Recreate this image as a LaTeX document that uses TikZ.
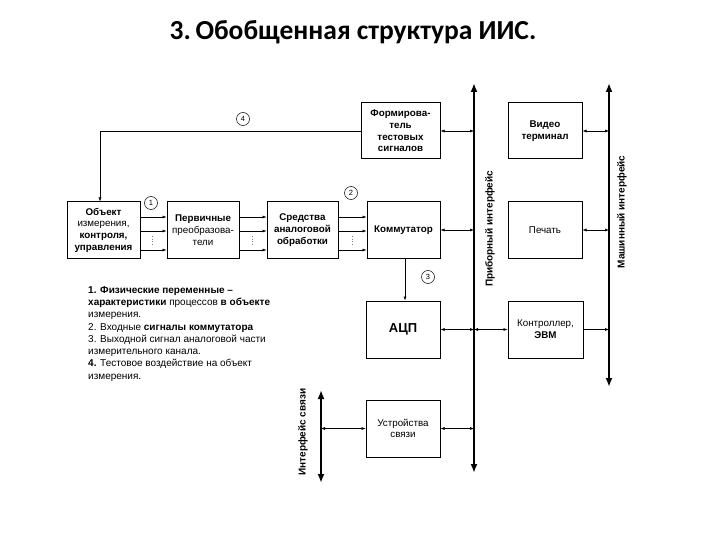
\documentclass[tikz,border=0pt]{standalone}
\usepackage{fontspec}
\setmainfont{Liberation Sans}
\newfontfamily\titlefont{Carlito}
\usetikzlibrary{arrows.meta}
\tikzset{
  blk/.style={draw, line width=1pt, minimum width=73pt, minimum height=56pt, align=center, font=\fontsize{9.8}{11.7}\selectfont, inner sep=0pt},
  sig/.style={line width=0.5pt, -{Latex[length=4pt,width=3pt]}},
  bi/.style={line width=0.5pt, {Latex[length=4pt,width=3pt]}-{Latex[length=4pt,width=3pt]}},
  bus/.style={line width=2.4pt, {Latex[length=9pt,width=7pt]}-{Latex[length=9pt,width=7pt]}},
  num/.style={draw, circle, line width=0.5pt, inner sep=0pt, minimum size=13pt, font=\fontsize{7.5}{7.5}\selectfont},
  dots/.style={dotted, line width=0.7pt, gray},
  buslbl/.style={rotate=90, font=\bfseries\fontsize{10}{11}\selectfont}
}
\begin{document}
\begin{tikzpicture}[x=1pt,y=-1pt]
\useasboundingbox (0,0) rectangle (720,540);
\node[font=\titlefont\bfseries\fontsize{27.5}{29}\selectfont, anchor=base] (title) at (353,40) {3.\,Обобщенная структура ИИС.};

% blocks
\node[blk] (obj) at (103.5,230) {\textbf{Объект}\\измерения,\\\textbf{контроля,}\\\textbf{управления}};
\node[blk, minimum width=72pt] (perv) at (203,230) {\textbf{Первичные}\\преобразова-\\тели};
\node[blk, minimum width=71pt] (sred) at (302.5,230) {\textbf{Средства}\\\textbf{аналоговой}\\\textbf{обработки}};
\node[blk] (komm) at (403.5,230) {\textbf{Коммутатор}};
\node[blk, minimum width=79pt] (form) at (400.5,131) {\textbf{Формирова-}\\\textbf{тель}\\\textbf{тестовых}\\\textbf{сигналов}};
\node[blk, minimum width=74pt] (video) at (545,131) {\textbf{Видео}\\\textbf{терминал}};
\node[blk, minimum width=74pt] (pech) at (545,230) {Печать};
\node[blk, minimum width=74pt, minimum height=57pt] (acp) at (403,329.5) {\fontsize{13}{15}\selectfont\textbf{АЦП}};
\node[blk, minimum width=75pt, minimum height=57pt] (kontr) at (545.5,329.5) {Контроллер,\\\textbf{ЭВМ}};
\node[blk, minimum width=74pt, minimum height=57pt] (ustr) at (403,428.5) {Устройства\\связи};

% buses
\coordinate (pbT) at (474,83);
\coordinate (pbB) at (474,473);
\coordinate (mbT) at (609,83);
\coordinate (mbB) at (609,387);
\coordinate (sbT) at (321,390);
\coordinate (sbB) at (321,483);
\draw[bus] (pbB) -- (pbT);
\draw[bus] (mbB) -- (mbT);
\draw[bus] (sbB) -- (sbT);
\node[buslbl] (pbl) at (490,229) {Приборный интерфейс};
\node[buslbl] (mbl) at (622,212) {Машинный интерфейс};
\node[buslbl] (sbl) at (303,432) {Интерфейс связи};

% signal lines between blocks
\foreach \yy in {217,231,250}{
  \draw[sig] (obj.east |- 0,\yy) -- (perv.west |- 0,\yy);
  \draw[sig] (perv.east |- 0,\yy) -- (sred.west |- 0,\yy);
  \draw[sig] (sred.east |- 0,\yy) -- (komm.west |- 0,\yy);
}
\draw[dots] (152,236) -- (152,246);
\draw[dots] (252,236) -- (252,246);
\draw[dots] (352,236) -- (352,246);

% feedback
\draw[sig] (form.west) -| ([xshift=-3.5pt]obj.north);
% komm -> acp
\draw[sig] (komm.south -| 405,0) -- (acp.north -| 405,0);

% bus connections
\draw[bi] (form.east) -- (form.east -| pbT);
\draw[bi] (komm.east) -- (komm.east -| pbT);
\draw[bi] (acp.east) -- (acp.east -| pbT);
\draw[bi] (ustr.east) -- (ustr.east -| pbT);
\draw[bi] (kontr.west -| pbT) -- (kontr.west);
\draw[sig] (kontr.east) -- (kontr.east -| mbT);
\draw[bi] (video.east) -- (video.east -| mbT);
\draw[bi] (pech.east) -- (pech.east -| mbT);
\draw[bi] (ustr.west -| sbT) -- (ustr.west);

% circled numbers
\node[num] (n4) at (243,119) {4};
\node[num] (n1) at (151,203) {1};
\node[num] (n2) at (351,193) {2};
\node[num] (n3) at (428,277) {3};

% legend
\node[anchor=north west, align=left, inner sep=0pt, font=\fontsize{10}{12.3}\selectfont] (leg) at (88,286) {%
\textbf{1. Физические переменные –}\\
\textbf{характеристики} процессов \textbf{в объекте}\\
измерения.\\
2. Входные \textbf{сигналы коммутатора}\\
3. Выходной сигнал аналоговой части\\
измерительного канала.\\
\textbf{4.} Тестовое воздействие на объект\\
измерения.};
\end{tikzpicture}
\end{document}
